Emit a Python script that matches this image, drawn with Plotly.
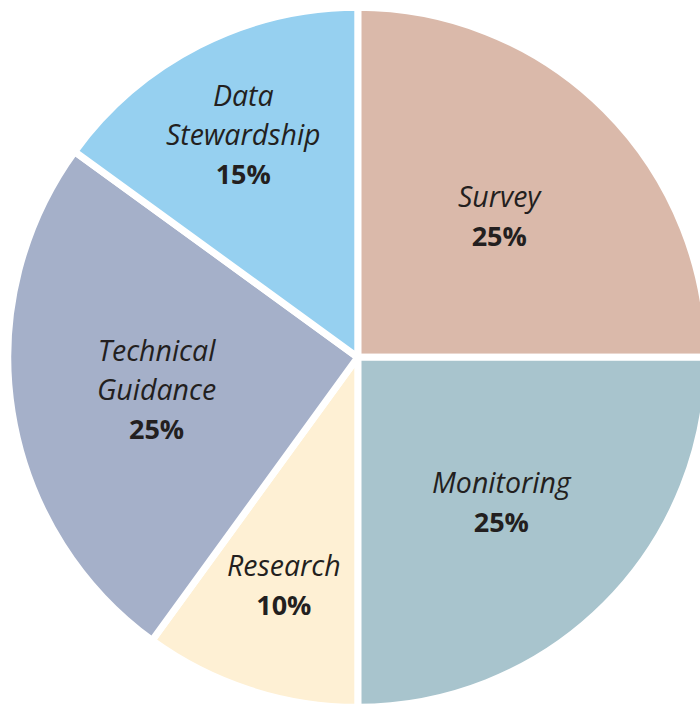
import math
import plotly.graph_objects as go

# Share of effort by activity area (percent)
categories = ["Survey", "Monitoring", "Research", "Technical Guidance", "Data Stewardship"]
shares = [25, 25, 10, 25, 15]
slice_colors = ["#DAB9AA", "#A8C4CD", "#FEF0D4", "#A5B0C9", "#96D0F0"]

# how far out along each slice's bisector its label sits (fraction of radius)
label_radius = [0.573, 0.582, 0.683, 0.581, 0.717]

W, H = 710, 708
cx, cy_top, r = 357.8, 357.3, 350.0
cy = H - cy_top

fig = go.Figure(
    go.Pie(
        labels=categories,
        values=shares,
        sort=False,
        direction="clockwise",
        rotation=0,
        marker=dict(colors=slice_colors, line=dict(color="white", width=7)),
        textinfo="none",
        domain=dict(x=[(cx - r) / W, (cx + r) / W], y=[(cy - r) / H, (cy + r) / H]),
        hoverinfo="label+percent",
        showlegend=False,
    )
)

# slice labels: italic name over bold percentage, placed on the slice bisector
total = sum(shares)
start = 0.0
for name, val, frac in zip(categories, shares, label_radius):
    mid = 2 * math.pi * (start + val / 2) / total  # clockwise from 12 o'clock
    start += val
    d = frac * r
    x = (cx + d * math.sin(mid)) / W
    y = (cy + d * math.cos(mid)) / H
    pct = round(100 * val / total)
    fig.add_annotation(
        x=x, y=y, xref="paper", yref="paper",
        xanchor="center", yanchor="middle", showarrow=False,
        text=(
            f"<span style='font-size:28.5px'><i>{name.replace(' ', '<br>')}</i></span>"
            f"<br><span style='font-size:27px'><b>{pct}%</b></span>"
        ),
        font=dict(family="'Open Sans', sans-serif", size=30, color="#231F20"),
        align="center",
    )

fig.update_layout(
    width=W,
    height=H,
    margin=dict(l=0, r=0, t=0, b=0),
    paper_bgcolor="white",
    plot_bgcolor="white",
)

fig.write_html(
    "out.html",
    post_script="document.documentElement.style.overflow='hidden';document.body.style.overflow='hidden';",
)
